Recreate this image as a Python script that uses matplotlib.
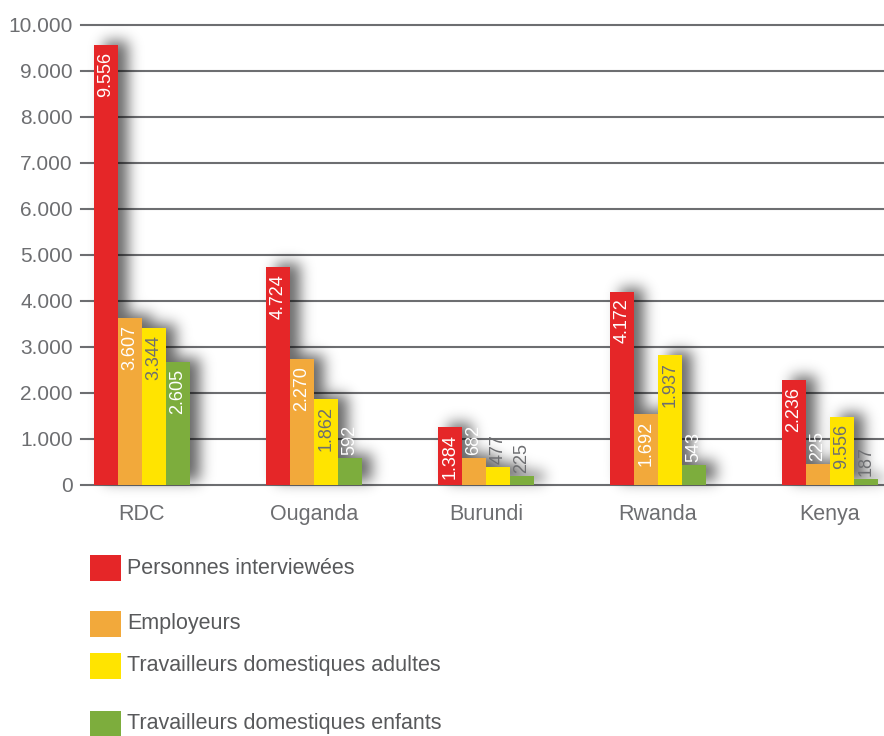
import numpy as np
import matplotlib
matplotlib.use("Agg")
import matplotlib.pyplot as plt
from matplotlib.patches import Rectangle
from matplotlib.ticker import FuncFormatter

plt.rcParams['font.family'] = ['Liberation Sans', 'DejaVu Sans']

# Data
countries = ["RDC", "Ouganda", "Burundi", "Rwanda", "Kenya"]
series = ["Personnes interviewées", "Employeurs",
          "Travailleurs domestiques adultes", "Travailleurs domestiques enfants"]

# bar heights as drawn in the picture
interviewed = [9565, 4740, 1260, 4200, 2280]
employers = [3630, 2740, 590, 1540, 460]
adults = [3410, 1870, 390, 2830, 1480]
children = [2670, 590, 196, 430, 130]

# numbers printed on the bars
interviewed_lbl = [9556, 4724, 1384, 4172, 2236]
employers_lbl = [3607, 2270, 682, 1692, 225]
adults_lbl = [3344, 1862, 477, 1937, 9556]
children_lbl = [2605, 592, 225, 543, 187]

colors = ["#e52628", "#f2a93b", "#ffe400", "#7dad3d"]
gray = "#6d6e71"
# label colours (inside bar, outside bar) per series
inside_col = ["white", "white", gray, "white"]
outside_col = [["white"] * 5, ["white"] * 5, [gray] * 5,
               ["white", "white", gray, "white", gray]]


def fmt(v):
    return f"{int(v):,}".replace(",", ".")


fig = plt.figure(figsize=(8.84, 7.36), dpi=100)
ax_w_px, ax_h_px = 884 - 81, 460
ax = fig.add_axes([81 / 884, 1 - 485 / 736, ax_w_px / 884, ax_h_px / 736])

x = np.arange(len(countries))
width = 0.14
heights = [interviewed, employers, adults, children]
labels = [interviewed_lbl, employers_lbl, adults_lbl, children_lbl]

xlim = ((81 - 142) / 172, (884 - 142) / 172)
ylim = (0, 10000)

# soft drop shadow: rasterise the bars, shift, blur, show as an image behind them
px_x = ax_w_px / (xlim[1] - xlim[0])     # pixels per x unit
px_y = ax_h_px / (ylim[1] - ylim[0])     # pixels per y unit
margin = 30
gx = xlim[0] + (np.arange(ax_w_px) + 0.5) / px_x
gy = ylim[0] + (np.arange(-margin, ax_h_px + margin) + 0.5) / px_y
GX, GY = np.meshgrid(gx, gy)
shift_x, shift_y = 10 / px_x, 4 / px_y
mask = np.zeros(GX.shape)
for i, h in enumerate(heights):
    xs = x + (i - 1.5) * width
    for xc, hv in zip(xs, h):
        inside = ((GX >= xc - width / 2 + shift_x) & (GX <= xc + width / 2 + shift_x)
                  & (GY >= 0 + shift_y) & (GY <= hv + shift_y))
        mask[inside] = 1.0
sigma = 7
k = np.arange(-24, 25)
kern = np.exp(-k ** 2 / (2 * sigma ** 2))
kern /= kern.sum()
blur = np.apply_along_axis(lambda r: np.convolve(r, kern, mode='same'), 1, mask)
blur = np.apply_along_axis(lambda c: np.convolve(c, kern, mode='same'), 0, blur)
rgba = np.zeros(blur.shape + (4,))
rgba[..., 3] = 0.6 * blur
ax.imshow(rgba, origin='lower', aspect='auto', zorder=2, clip_on=False,
          interpolation='nearest',
          extent=(xlim[0], xlim[1], ylim[0] - margin / px_y, ylim[1] + margin / px_y))

for i, (h, lab) in enumerate(zip(heights, labels)):
    xs = x + (i - 1.5) * width
    ax.bar(xs, h, width, color=colors[i], linewidth=0, zorder=3)
    for j in range(len(countries)):
        if h[j] >= 1000:
            ax.annotate(fmt(lab[j]), (xs[j], h[j]), xytext=(0, -5),
                        textcoords='offset points', rotation=90,
                        ha='center', va='top', fontsize=13,
                        color=inside_col[i], zorder=4)
        else:
            ax.annotate(fmt(lab[j]), (xs[j], h[j]), xytext=(0, 2),
                        textcoords='offset points', rotation=90,
                        ha='center', va='bottom', fontsize=13,
                        color=outside_col[i][j], zorder=4)

ax.set_xlim(*xlim)
ax.set_ylim(*ylim)
ax.set_yticks(np.arange(0, 10001, 1000))
ax.yaxis.set_major_formatter(FuncFormatter(lambda v, p: fmt(v)))
ax.set_xticks(x)
ax.set_xticklabels(countries)
ax.yaxis.grid(True, color=gray, linewidth=1.5, zorder=1)
ax.set_axisbelow(True)
for s in ax.spines.values():
    s.set_visible(False)
ax.tick_params(axis='y', length=0, pad=6, labelsize=15, labelcolor=gray)
ax.tick_params(axis='x', length=0, pad=14, labelsize=15.5, labelcolor=gray)
for gl in ax.yaxis.get_gridlines():
    gl.set_clip_on(False)

# legend drawn by hand (uneven row spacing)
rows = [568, 624, 666, 724]
for i, name in enumerate(series):
    yc = rows[i]
    fig.add_artist(Rectangle((90 / 884, 1 - (yc + 13) / 736), 31 / 884, 26 / 736,
                             transform=fig.transFigure, color=colors[i], linewidth=0))
    fig.text(127 / 884, 1 - yc / 736, name, ha='left', va='center',
             fontsize=15.5, color="#58595b")

fig.savefig("out.png", dpi=100)
